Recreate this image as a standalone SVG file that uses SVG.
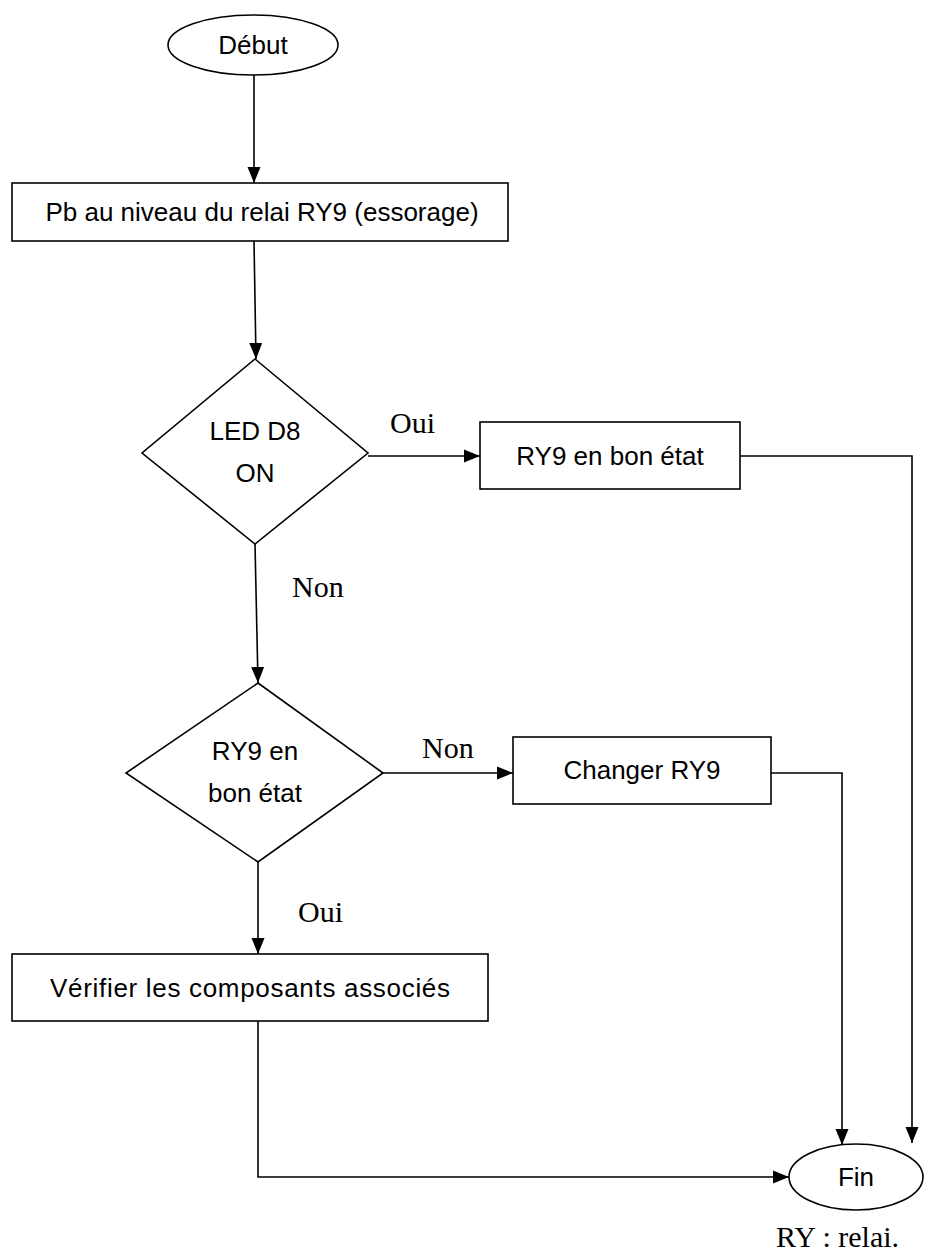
<svg xmlns="http://www.w3.org/2000/svg" width="926" height="1257" viewBox="0 0 926 1257">
  <defs>
    <marker id="arrow" markerUnits="userSpaceOnUse" markerWidth="16" markerHeight="16" viewBox="0 0 16 16" refX="16" refY="8" orient="auto">
      <path d="M0,1.5 L16,8 L0,14.5 Z" fill="#000"/>
    </marker>
    <style>
      .shape { fill: #fff; stroke: #000; stroke-width: 1.6; }
      .label { font-family: "Liberation Sans", Arial, sans-serif; font-size: 26px; fill: #000; text-anchor: middle; }
      .note { font-family: "Liberation Serif", "Times New Roman", serif; font-size: 30px; fill: #000; }
      .wire { fill: none; stroke: #000; stroke-width: 1.6; }
      .wire.arrow { marker-end: url(#arrow); }
    </style>
  </defs>
  <rect width="926" height="1257" fill="#fff"/>

  <!-- connectors -->
  <g id="connectors">
    <line class="wire arrow" x1="254" y1="75" x2="254" y2="183"/>
    <line class="wire arrow" x1="254" y1="241" x2="256" y2="359"/>
    <line class="wire arrow" x1="368" y1="456" x2="480" y2="456"/>
    <polyline class="wire arrow" points="740,456 912,456 912,1143"/>
    <line class="wire arrow" x1="255" y1="544" x2="258" y2="683"/>
    <line class="wire arrow" x1="383" y1="773" x2="513" y2="773"/>
    <polyline class="wire arrow" points="771,773 842,773 842,1145"/>
    <line class="wire arrow" x1="258" y1="862" x2="258" y2="954"/>
    <polyline class="wire arrow" points="258,1021 258,1177 789,1177"/>
  </g>

  <!-- edge labels -->
  <g id="edge-labels">
    <text class="note" x="390" y="433">Oui</text>
    <text class="note" x="292" y="597">Non</text>
    <text class="note" x="422" y="758">Non</text>
    <text class="note" x="298" y="922">Oui</text>
  </g>

  <g id="start">
    <ellipse class="shape" cx="253" cy="45" rx="85" ry="30"/>
    <text class="label" x="253" y="54">Début</text>
  </g>

  <g id="problem">
    <rect class="shape" x="12" y="183" width="496" height="58"/>
    <text class="label" x="262" y="221">Pb au niveau du relai RY9 (essorage)</text>
  </g>

  <g id="check-led">
    <polygon class="shape" points="255,359 368,453 255,544 142,453"/>
    <text class="label" x="255" y="440">LED D8</text>
    <text class="label" x="255" y="482">ON</text>
  </g>

  <g id="relay-ok">
    <rect class="shape" x="480" y="422" width="260" height="67"/>
    <text class="label" x="610" y="465">RY9 en bon état</text>
  </g>

  <g id="check-relay">
    <polygon class="shape" points="258,683 383,773 258,862 126,773"/>
    <text class="label" x="255" y="760">RY9 en</text>
    <text class="label" x="255" y="802">bon état</text>
  </g>

  <g id="replace-relay">
    <rect class="shape" x="513" y="737" width="258" height="67"/>
    <text class="label" x="642" y="779">Changer RY9</text>
  </g>

  <g id="check-parts">
    <rect class="shape" x="12" y="954" width="476" height="67"/>
    <text class="label" x="250" y="997" textLength="400" lengthAdjust="spacing">Vérifier les composants associés</text>
  </g>

  <g id="end">
    <ellipse class="shape" cx="856" cy="1177" rx="67" ry="33"/>
    <text class="label" x="856" y="1186">Fin</text>
  </g>

  <text class="note" x="776" y="1247">RY : relai.</text>
</svg>
